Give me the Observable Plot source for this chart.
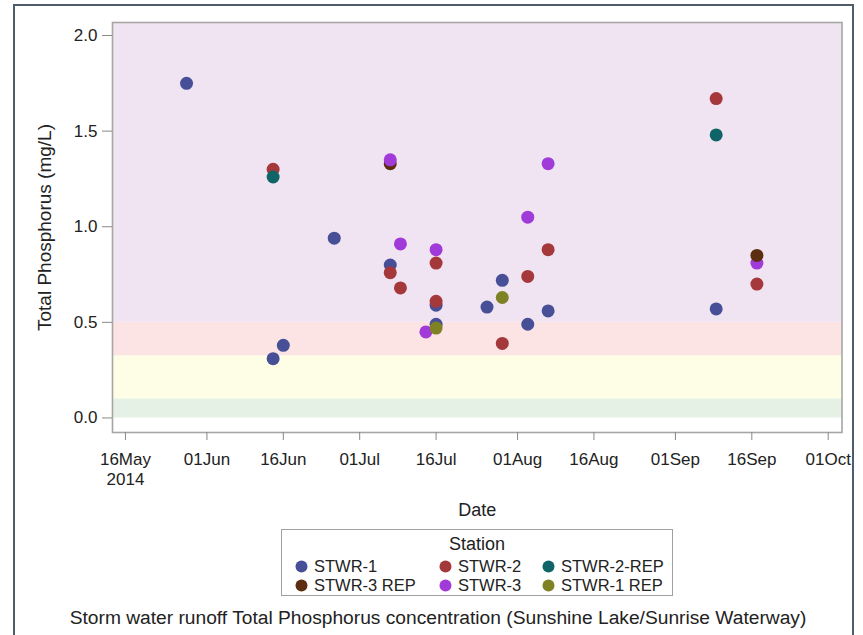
<!DOCTYPE html>
<html>
<head>
<meta charset="utf-8">
<script src="https://cdn.jsdelivr.net/npm/d3@7"></script>
<script src="https://cdn.jsdelivr.net/npm/@observablehq/plot@0.6"></script>
<style>
  html, body { margin: 0; padding: 0; background: #fff; }
  body { font-family: "Liberation Sans", Arial, sans-serif; color: #222; }
  #wrap { position: relative; width: 863px; height: 635px; overflow: hidden; }
  #border { position: absolute; left: 13px; top: 4px; width: 841px; height: 660px; border: 2px solid #4f5d6b; box-sizing: border-box; }
  #chart { position: absolute; left: 0; top: 0; }
  #legend { position: absolute; left: 281px; top: 529px; width: 392px; height: 67px; border: 1.5px solid #a0a0a0; box-sizing: border-box; background: #fff; }
  #legend .title { position: absolute; left: 0; right: 0; top: 3px; text-align: center; font-size: 18px; line-height: 22px; }
  #legend .item { position: absolute; font-size: 16.5px; line-height: 18px; white-space: nowrap; }
  #legend .item svg { position: absolute; left: -19px; top: 3px; }
  #caption { position: absolute; left: 0; width: 876px; top: 606px; text-align: center; font-size: 19.2px; line-height: 24px; white-space: nowrap; }
</style>
</head>
<body>
<div id="wrap">
  <div id="border"></div>
  <div id="chart"></div>
  <div id="legend"><div class="title">Station</div></div>
  <div id="caption"></div>
</div>
<script>
// ---- data ----
const stations = ["STWR-1", "STWR-2", "STWR-2-REP", "STWR-3 REP", "STWR-3", "STWR-1 REP"];
const stationColors = ["#475096", "#a4383a", "#0e6466", "#5c2d10", "#a03ad8", "#7f8224"];

const sampleStation = [
  "STWR-1", "STWR-2", "STWR-2-REP", "STWR-1", "STWR-1", "STWR-1",
  "STWR-1", "STWR-2", "STWR-3 REP", "STWR-3", "STWR-3", "STWR-2",
  "STWR-3", "STWR-1", "STWR-2", "STWR-2", "STWR-3", "STWR-1", "STWR-1 REP",
  "STWR-1", "STWR-1", "STWR-2", "STWR-1 REP",
  "STWR-1", "STWR-2", "STWR-3",
  "STWR-1", "STWR-2", "STWR-3",
  "STWR-1", "STWR-2", "STWR-2-REP",
  "STWR-2", "STWR-3", "STWR-3 REP"
];
const sampleDate = [
  "2014-05-28", "2014-06-14", "2014-06-14", "2014-06-14", "2014-06-16", "2014-06-26",
  "2014-07-07", "2014-07-07", "2014-07-07", "2014-07-07", "2014-07-09", "2014-07-09",
  "2014-07-14", "2014-07-16", "2014-07-16", "2014-07-16", "2014-07-16", "2014-07-16", "2014-07-16",
  "2014-07-26", "2014-07-29", "2014-07-29", "2014-07-29",
  "2014-08-03", "2014-08-03", "2014-08-03",
  "2014-08-07", "2014-08-07", "2014-08-07",
  "2014-09-09", "2014-09-09", "2014-09-09",
  "2014-09-17", "2014-09-17", "2014-09-17"
];
const sampleTP = [
  1.75, 1.30, 1.26, 0.31, 0.38, 0.94,
  0.80, 0.76, 1.33, 1.35, 0.91, 0.68,
  0.45, 0.59, 0.61, 0.81, 0.88, 0.49, 0.47,
  0.58, 0.72, 0.39, 0.63,
  0.49, 0.74, 1.05,
  0.56, 0.88, 1.33,
  0.57, 1.67, 1.48,
  0.70, 0.81, 0.85
];

const xTickDates = ["2014-05-16", "2014-06-01", "2014-06-16", "2014-07-01", "2014-07-16",
                    "2014-08-01", "2014-08-16", "2014-09-01", "2014-09-16", "2014-10-01"];
const yTicks = [0.0, 0.5, 1.0, 1.5, 2.0];

// threshold bands (mg/L)
const bandLow  = [0.0, 0.1, 0.325, 0.5];
const bandHigh = [0.1, 0.325, 0.5, 2.068];
const bandColors = ["#e6f1e6", "#fefee6", "#fde4e4", "#f1e4f2"];

const yTitle = "Total Phosphorus (mg/L)";
const xTitle = "Date";
const captionText = "Storm water runoff Total Phosphorus concentration (Sunshine Lake/Sunrise Waterway)";

// ---- build ----
const rows = sampleTP.map((v, i) => ({station: sampleStation[i], date: new Date(sampleDate[i] + "T00:00Z"), tp: v}));
const bands = bandLow.map((lo, i) => ({lo, hi: bandHigh[i], color: bandColors[i]}));
const tickDates = xTickDates.map(s => new Date(s + "T00:00Z"));
const fmtDay = d3.utcFormat("%d%b");

const chart = Plot.plot({
  width: 863,
  height: 522,
  marginLeft: 112,
  marginRight: 21.5,
  marginTop: 22,
  marginBottom: 90,
  style: {fontFamily: '"Liberation Sans", Arial, sans-serif', fontSize: "17px", background: "transparent", color: "#222", overflow: "visible"},
  x: {type: "utc", domain: [new Date("2014-05-13T11:00Z"), new Date("2014-10-03T17:00Z")]},
  y: {domain: [-0.076, 2.068]},
  color: {domain: stations, range: stationColors},
  marks: [
    ...bands.map(b => Plot.rect([b], {y1: "lo", y2: "hi", fill: b.color})),
    Plot.frame({stroke: "#a6a6a6", strokeWidth: 1.6}),
    Plot.axisY({ticks: yTicks, tickFormat: d3.format(".1f"), tickSize: 10, tickPadding: 5, label: null, stroke: "#888", fill: "#222", fontSize: 17}),
    Plot.axisX({ticks: tickDates, tickFormat: (d, i) => fmtDay(d) + (i === 0 ? "\n2014" : ""), tickSize: 8, tickPadding: 10, lineHeight: 1.2, label: null, stroke: "#888", fill: "#222", fontSize: 17}),
    Plot.text([xTitle], {frameAnchor: "bottom", dy: 78, text: d => d, fontSize: 18, lineAnchor: "middle", fill: "#222"}),
    Plot.text([yTitle], {frameAnchor: "left", dx: -68, rotate: -90, text: d => d, fontSize: 19, textAnchor: "middle", lineAnchor: "middle", fill: "#222"}),
    Plot.dot(rows, {x: "date", y: "tp", fill: "station", r: 6.5})
  ]
});
document.getElementById("chart").appendChild(chart);

// ---- legend ----
const legend = document.getElementById("legend");
const colLeft = [32, 176, 279];
const rowTop = [27, 46];
stations.forEach((s, i) => {
  const item = document.createElement("div");
  item.className = "item";
  item.style.left = colLeft[i % 3] + "px";
  item.style.top = rowTop[Math.floor(i / 3)] + "px";
  item.innerHTML = `<svg width="13" height="13"><circle cx="6.5" cy="6.5" r="6" fill="${stationColors[i]}"/></svg>`;
  item.appendChild(document.createTextNode(s));
  legend.appendChild(item);
});
document.getElementById("caption").textContent = captionText;
</script>
</body>
</html>
